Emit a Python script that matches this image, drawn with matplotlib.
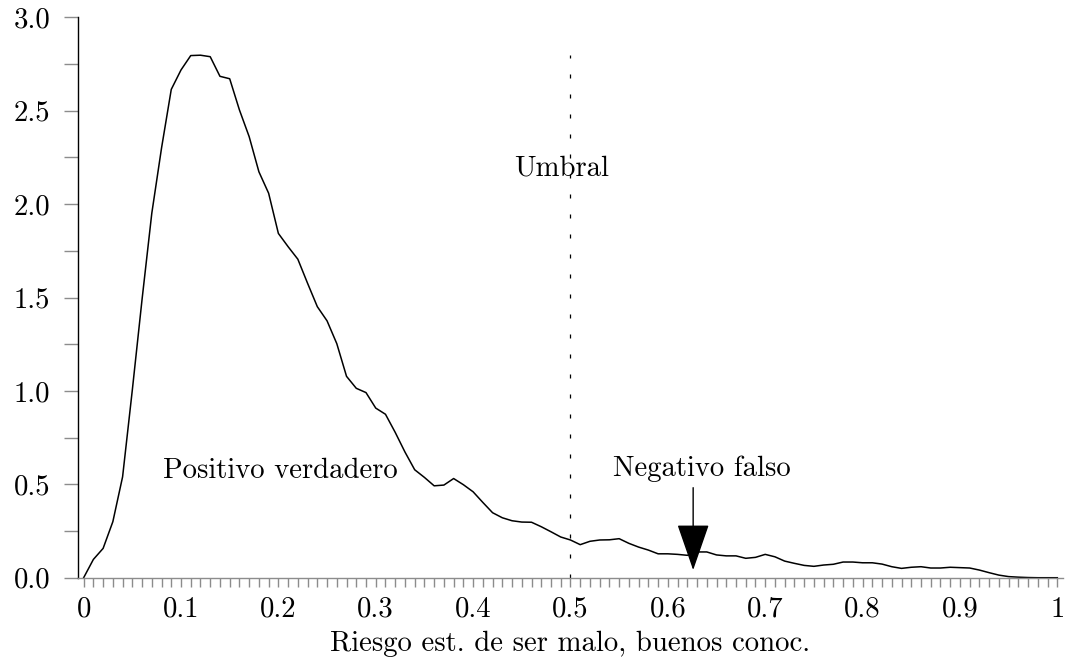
import numpy as np
import matplotlib
matplotlib.use("Agg")
import matplotlib.pyplot as plt
from matplotlib.ticker import MultipleLocator, FixedLocator

plt.rcParams['font.family'] = 'cmr10'
plt.rcParams['mathtext.fontset'] = 'cm'
plt.rcParams['axes.formatter.use_mathtext'] = True

# densidad estimada, muestreada cada 0.01
riesgo = np.round(np.arange(0, 1.001, 0.01), 2)
densidad = [
    0.0, 0.098, 0.157, 0.30, 0.54, 1.005, 1.49, 1.951, 2.30, 2.614,
    2.718, 2.795, 2.797, 2.789, 2.684, 2.671, 2.504, 2.361, 2.173, 2.058,
    1.843, 1.772, 1.705, 1.576, 1.451, 1.375, 1.253, 1.078, 1.014, 0.991,
    0.908, 0.875, 0.778, 0.673, 0.578, 0.537, 0.492, 0.496, 0.531, 0.498,
    0.460, 0.403, 0.348, 0.321, 0.305, 0.298, 0.297, 0.273, 0.246, 0.218,
    0.202, 0.177, 0.195, 0.202, 0.203, 0.209, 0.184, 0.164, 0.148, 0.128,
    0.128, 0.125, 0.120, 0.138, 0.138, 0.122, 0.117, 0.117, 0.104, 0.109,
    0.125, 0.112, 0.089, 0.077, 0.066, 0.061, 0.068, 0.072, 0.084, 0.084,
    0.080, 0.080, 0.073, 0.059, 0.050, 0.056, 0.059, 0.052, 0.052, 0.056,
    0.054, 0.052, 0.041, 0.027, 0.014, 0.006, 0.003, 0.001, 0.0, 0.0,
    0.0,
]

umbral = 0.5
umbral_alto = 2.8
flecha_x = 0.626
flecha_y = (0.482, 0.041)

xticks = [0, 0.1, 0.2, 0.3, 0.4, 0.5, 0.6, 0.7, 0.8, 0.9, 1.0]
xticklabels = ['0', '0.1', '0.2', '0.3', '0.4', '0.5', '0.6', '0.7', '0.8', '0.9', '1']
yticks = [0, 0.5, 1.0, 1.5, 2.0, 2.5, 3.0]
yticklabels = ['0.0', '0.5', '1.0', '1.5', '2.0', '2.5', '3.0']

fs = 20.7

fig = plt.figure(figsize=(10.68, 6.62), dpi=100)
ax = fig.add_axes([0.0733, 0.1273, 0.9217, 0.8466])

ax.plot(riesgo, densidad, color='black', lw=1.1)
ax.plot([umbral, umbral], [0, umbral_alto], color='black', lw=0.9,
        linestyle=(0, (3.2, 12.8)))

ax.text(0.4904, 2.155, 'Umbral', ha='center', va='baseline', fontsize=fs)
ax.text(0.2016, 0.532, 'Positivo verdadero', ha='center', va='baseline', fontsize=fs)
ax.text(0.635, 0.544, 'Negativo falso', ha='center', va='baseline', fontsize=fs)
ax.annotate('', xy=(flecha_x, flecha_y[1]), xytext=(flecha_x, flecha_y[0]),
            arrowprops=dict(arrowstyle='-|>,head_width=0.52,head_length=1.5',
                            color='black', lw=1.0, shrinkA=0, shrinkB=0,
                            mutation_scale=20))

ax.set_xlim(-0.0055, 1.0055)
ax.set_ylim(0, 3.0)

ax.xaxis.set_major_locator(FixedLocator(xticks))
ax.set_xticklabels(xticklabels)
ax.xaxis.set_minor_locator(MultipleLocator(0.01))
ax.yaxis.set_major_locator(FixedLocator(yticks))
ax.set_yticklabels(yticklabels)
ax.yaxis.set_minor_locator(MultipleLocator(0.25))

ax.tick_params(axis='x', which='both', direction='out', length=6.5, width=1.0,
               color='#8c8c8c', labelsize=fs, pad=7)
ax.tick_params(axis='y', which='both', direction='out', length=10, width=1.0,
               color='#8c8c8c', labelsize=fs, pad=10)

ax.spines['top'].set_visible(False)
ax.spines['right'].set_visible(False)
ax.spines['left'].set_color('black')
ax.spines['left'].set_linewidth(1.0)
ax.spines['bottom'].set_color('#8c8c8c')
ax.spines['bottom'].set_linewidth(1.0)

ax.set_xlabel('Riesgo est. de ser malo, buenos conoc.', fontsize=fs, labelpad=6)

fig.savefig('out.png', dpi=100)
